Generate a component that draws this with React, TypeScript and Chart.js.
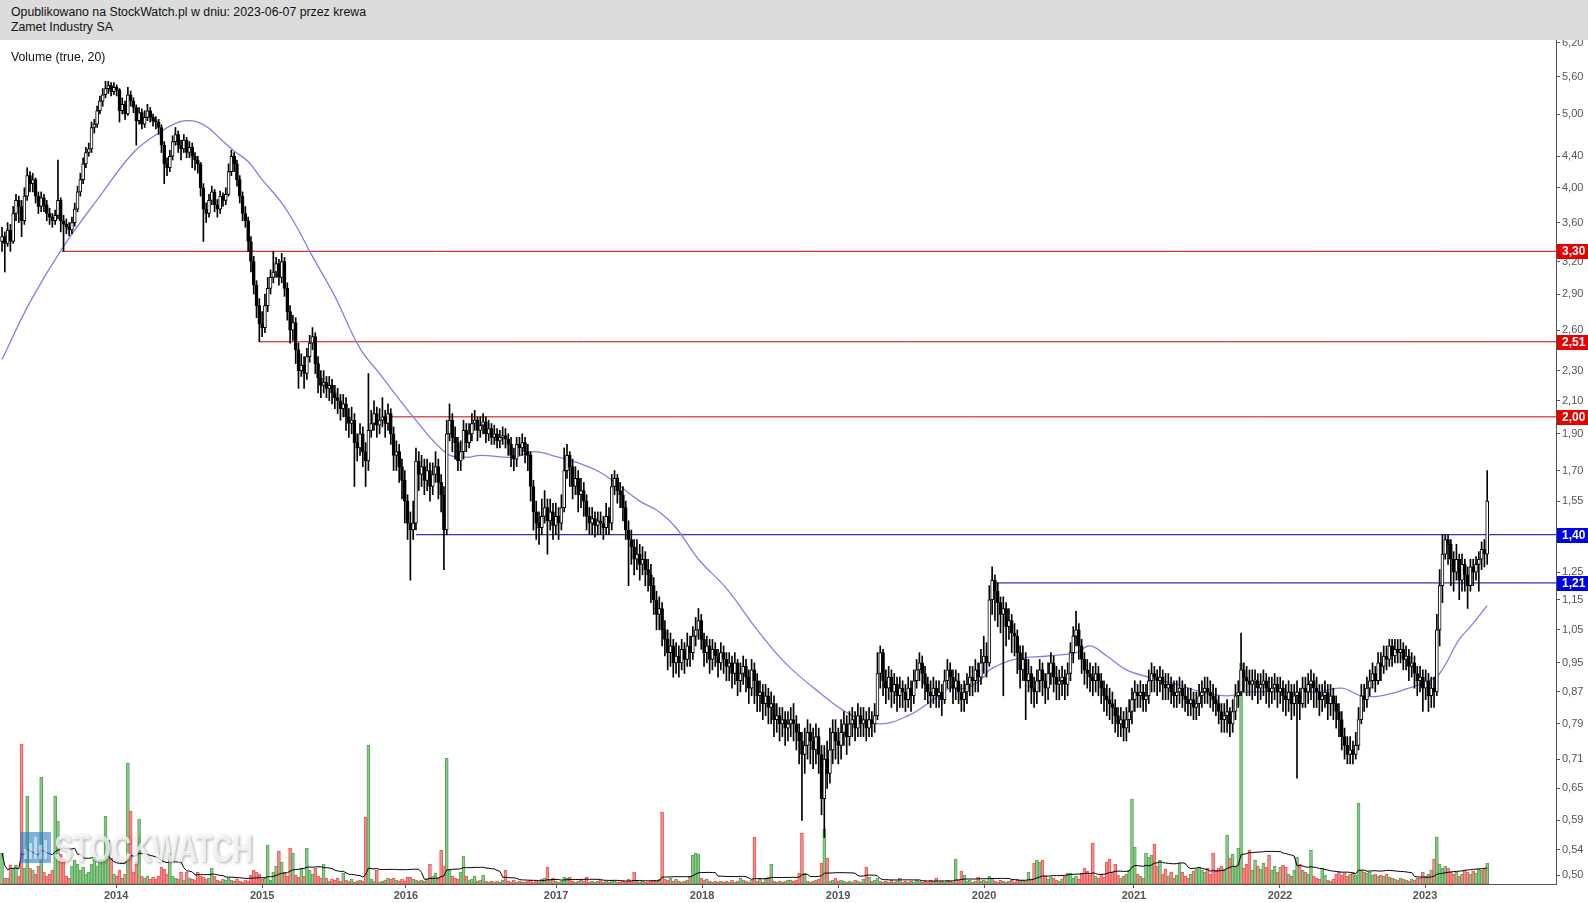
import React, { useEffect, useRef } from 'react';
import { Chart, registerables } from 'chart.js';

Chart.register(...registerables);

// ---------------- DATA (weekly candles) ----------------
const firstOpen = 3.40;

const closes = [
  3.45, 3.38, 3.52, 3.40, 3.70, 3.85, 3.78, 3.62, 3.90, 4.15,
  4.05, 4.10, 3.90, 3.78, 3.88, 3.80, 3.70, 3.66, 3.62, 3.68,
  3.85, 3.62, 3.58, 3.55, 3.52, 3.60, 3.75, 3.95, 4.10, 4.30,
  4.45, 4.50, 4.80, 4.85, 5.05, 5.20, 5.30, 5.40, 5.45, 5.35,
  5.42, 5.38, 5.05, 5.15, 5.00, 5.30, 5.20, 5.10, 4.90, 5.02,
  4.85, 4.95, 5.05, 4.95, 4.90, 4.88, 4.80, 4.55, 4.30, 4.25,
  4.40, 4.60, 4.70, 4.55, 4.50, 4.62, 4.45, 4.52, 4.40, 4.35,
  4.30, 4.00, 3.75, 3.70, 3.85, 3.95, 3.80, 3.75, 3.90, 3.85,
  3.92, 4.20, 4.40, 4.30, 4.10, 3.90, 3.70, 3.62, 3.40, 3.20,
  2.98, 2.80, 2.65, 2.62, 2.80, 2.95, 3.05, 3.10, 3.18, 3.05,
  3.20, 2.95, 2.75, 2.60, 2.66, 2.45, 2.30, 2.34, 2.28, 2.40,
  2.50, 2.55, 2.35, 2.25, 2.20, 2.22, 2.18, 2.20, 2.15, 2.12,
  2.10, 2.05, 2.08, 2.00, 1.96, 1.98, 1.85, 1.82, 1.90, 1.80,
  1.75, 1.92, 1.96, 2.02, 1.95, 1.98, 2.00, 1.96, 2.02, 1.90,
  1.78, 1.80, 1.72, 1.65, 1.55, 1.45, 1.42, 1.45, 1.75, 1.68,
  1.72, 1.65, 1.70, 1.62, 1.68, 1.72, 1.64, 1.58, 1.42, 1.90,
  1.98, 1.88, 1.85, 1.75, 1.80, 1.92, 1.85, 1.90, 1.96, 1.98,
  1.92, 1.95, 1.97, 1.90, 1.93, 1.88, 1.90, 1.86, 1.88, 1.89,
  1.87, 1.84, 1.78, 1.76, 1.84, 1.82, 1.85, 1.80, 1.78, 1.62,
  1.50, 1.45, 1.43, 1.48, 1.52, 1.46, 1.50, 1.44, 1.48, 1.45,
  1.52, 1.70, 1.78, 1.72, 1.62, 1.66, 1.58, 1.60, 1.55, 1.48,
  1.45, 1.47, 1.44, 1.46, 1.45, 1.43, 1.48, 1.45, 1.62, 1.66,
  1.60, 1.58, 1.52, 1.42, 1.38, 1.35, 1.30, 1.32, 1.28, 1.30,
  1.26, 1.24, 1.20, 1.15, 1.10, 1.12, 1.05, 1.02, 0.98, 1.00,
  0.95, 0.97, 0.95, 0.99, 0.96, 1.00, 0.98, 1.03, 1.05, 1.08,
  1.02, 0.98, 1.00, 0.96, 0.99, 0.97, 0.95, 0.98, 0.96, 0.94,
  0.95, 0.92, 0.95, 0.90, 0.92, 0.94, 0.91, 0.88, 0.93, 0.90,
  0.86, 0.87, 0.84, 0.86, 0.83, 0.84, 0.80, 0.81, 0.79, 0.80,
  0.78, 0.79, 0.80, 0.79, 0.77, 0.75, 0.72, 0.74, 0.77, 0.75,
  0.73, 0.76, 0.72, 0.63, 0.71, 0.68, 0.73, 0.77, 0.75, 0.74,
  0.77, 0.79, 0.76, 0.79, 0.80, 0.78, 0.81, 0.79, 0.80, 0.78,
  0.80, 0.79, 0.81, 0.92, 0.98, 0.90, 0.88, 0.91, 0.87, 0.89,
  0.86, 0.88, 0.87, 0.85, 0.88, 0.86, 0.90, 0.93, 0.95, 0.92,
  0.89, 0.87, 0.86, 0.88, 0.86, 0.87, 0.85, 0.90, 0.93, 0.91,
  0.88, 0.90, 0.87, 0.85, 0.87, 0.89, 0.91, 0.90, 0.93, 0.91,
  0.95, 0.97, 0.95, 1.15, 1.22, 1.18, 1.14, 1.10, 1.12, 1.06,
  1.08, 1.04, 1.03, 0.98, 0.93, 0.96, 0.90, 0.92, 0.88, 0.87,
  0.90, 0.93, 0.90, 0.88, 0.92, 0.95, 0.91, 0.89, 0.90, 0.91,
  0.89, 0.92, 0.98, 1.03, 1.05, 1.00, 0.96, 0.93, 0.92, 0.91,
  0.90, 0.92, 0.90, 0.88, 0.86, 0.85, 0.84, 0.83, 0.81, 0.79,
  0.80, 0.78, 0.80, 0.82, 0.85, 0.87, 0.86, 0.87, 0.85, 0.86,
  0.90, 0.92, 0.91, 0.90, 0.91, 0.89, 0.88, 0.89, 0.87, 0.86,
  0.87, 0.88, 0.86, 0.85, 0.84, 0.85, 0.83, 0.84, 0.86, 0.87,
  0.88, 0.87, 0.86, 0.85, 0.84, 0.82, 0.80, 0.81, 0.82, 0.79,
  0.82, 0.86, 0.87, 0.93, 0.91, 0.90, 0.89, 0.90, 0.90, 0.88,
  0.89, 0.90, 0.88, 0.87, 0.88, 0.89, 0.87, 0.88, 0.86, 0.85,
  0.87, 0.84, 0.86, 0.87, 0.84, 0.88, 0.87, 0.89, 0.90, 0.88,
  0.87, 0.85, 0.86, 0.87, 0.84, 0.86, 0.84, 0.82, 0.80, 0.76,
  0.74, 0.72, 0.73, 0.72, 0.74, 0.80, 0.86, 0.85, 0.88, 0.90,
  0.92, 0.90, 0.95, 0.94, 0.97, 0.96, 1.00, 0.97, 0.99, 0.98,
  0.99, 0.96, 0.97, 0.94, 0.95, 0.92, 0.90, 0.91, 0.88, 0.90,
  0.86, 0.88, 0.87, 1.05, 1.20, 1.32, 1.38, 1.36, 1.30, 1.25,
  1.30, 1.22, 1.28, 1.24, 1.20, 1.27, 1.25, 1.28, 1.30, 1.34,
  1.32, 1.55,
];

const highs = [
  3.55, 3.50, 3.60, 3.58, 3.78, 3.92, 3.90, 3.85, 4.00, 4.25,
  4.20, 4.18, 4.12, 3.95, 3.95, 3.92, 3.85, 3.76, 3.70, 3.74,
  4.35, 3.88, 3.68, 3.64, 3.60, 3.66, 3.82, 4.02, 4.18, 4.38,
  4.52, 4.58, 4.88, 4.92, 5.12, 5.28, 5.40, 5.52, 5.52, 5.50,
  5.50, 5.46, 5.40, 5.25, 5.20, 5.42, 5.36, 5.25, 5.14, 5.10,
  5.08, 5.05, 5.15, 5.10, 5.00, 4.96, 4.92, 4.84, 4.60, 4.38,
  4.48, 4.68, 4.80, 4.75, 4.62, 4.70, 4.66, 4.60, 4.58, 4.45,
  4.40, 4.32, 4.05, 3.82, 3.92, 4.02, 3.98, 3.86, 3.96, 3.94,
  4.00, 4.30, 4.48, 4.45, 4.35, 4.15, 3.95, 3.78, 3.66, 3.45,
  3.25, 3.02, 2.86, 2.75, 2.90, 3.05, 3.12, 3.30, 3.24, 3.22,
  3.28, 3.24, 3.00, 2.80, 2.72, 2.70, 2.50, 2.42, 2.40, 2.46,
  2.56, 2.62, 2.58, 2.40, 2.30, 2.30, 2.26, 2.26, 2.24, 2.20,
  2.18, 2.14, 2.14, 2.12, 2.05, 2.06, 2.02, 1.90, 1.96, 1.94,
  1.85, 2.28, 2.04, 2.10, 2.06, 2.05, 2.12, 2.04, 2.08, 2.05,
  1.94, 1.86, 1.84, 1.76, 1.70, 1.58, 1.50, 1.55, 1.82, 1.80,
  1.78, 1.76, 1.76, 1.74, 1.74, 1.80, 1.76, 1.68, 1.62, 1.98,
  2.08, 2.02, 1.94, 1.88, 1.86, 1.98, 1.96, 1.96, 2.02, 2.04,
  2.00, 2.00, 2.02, 2.00, 1.98, 1.96, 1.95, 1.93, 1.92, 1.94,
  1.93, 1.90, 1.88, 1.82, 1.88, 1.88, 1.90, 1.88, 1.84, 1.80,
  1.65, 1.55, 1.50, 1.56, 1.60, 1.56, 1.56, 1.54, 1.54, 1.52,
  1.58, 1.82, 1.84, 1.80, 1.76, 1.72, 1.70, 1.66, 1.64, 1.58,
  1.52, 1.52, 1.50, 1.50, 1.50, 1.48, 1.54, 1.52, 1.68, 1.70,
  1.68, 1.64, 1.62, 1.55, 1.46, 1.42, 1.38, 1.38, 1.36, 1.35,
  1.33, 1.30, 1.28, 1.23, 1.18, 1.16, 1.14, 1.08, 1.05, 1.04,
  1.02, 1.01, 1.00, 1.02, 1.01, 1.04, 1.03, 1.06, 1.09, 1.12,
  1.10, 1.04, 1.03, 1.02, 1.02, 1.01, 0.99, 1.01, 1.00, 0.98,
  0.98, 0.97, 0.98, 0.96, 0.95, 0.97, 0.96, 0.93, 0.96, 0.95,
  0.92, 0.90, 0.89, 0.89, 0.88, 0.87, 0.86, 0.84, 0.83, 0.83,
  0.82, 0.82, 0.83, 0.84, 0.81, 0.79, 0.77, 0.78, 0.80, 0.79,
  0.78, 0.79, 0.78, 0.74, 0.74, 0.75, 0.78, 0.80, 0.80, 0.78,
  0.80, 0.82, 0.81, 0.82, 0.83, 0.82, 0.84, 0.83, 0.83, 0.82,
  0.83, 0.82, 0.84, 0.98, 1.00, 0.99, 0.93, 0.94, 0.93, 0.92,
  0.91, 0.91, 0.90, 0.89, 0.91, 0.90, 0.93, 0.96, 0.98, 0.97,
  0.94, 0.91, 0.90, 0.91, 0.90, 0.90, 0.89, 0.93, 0.96, 0.95,
  0.93, 0.93, 0.92, 0.89, 0.90, 0.92, 0.94, 0.94, 0.96, 0.95,
  0.99, 1.03, 1.01, 1.20, 1.27, 1.24, 1.21, 1.16, 1.16, 1.14,
  1.12, 1.10, 1.07, 1.05, 1.00, 1.00, 0.98, 0.96, 0.94, 0.91,
  0.93, 0.96, 0.95, 0.92, 0.95, 0.98, 0.97, 0.94, 0.93, 0.94,
  0.93, 0.95, 1.01, 1.06, 1.11, 1.07, 1.02, 0.98, 0.96, 0.95,
  0.94, 0.95, 0.94, 0.92, 0.90, 0.89, 0.88, 0.87, 0.85, 0.83,
  0.83, 0.82, 0.83, 0.85, 0.88, 0.90, 0.89, 0.90, 0.89, 0.89,
  0.93, 0.95, 0.94, 0.93, 0.94, 0.93, 0.92, 0.92, 0.91, 0.90,
  0.90, 0.91, 0.90, 0.89, 0.88, 0.88, 0.87, 0.87, 0.89, 0.90,
  0.91, 0.91, 0.90, 0.89, 0.88, 0.86, 0.84, 0.84, 0.85, 0.83,
  0.85, 0.89, 0.90, 1.04, 0.95, 0.94, 0.93, 0.93, 0.93, 0.92,
  0.92, 0.93, 0.92, 0.91, 0.91, 0.92, 0.91, 0.91, 0.90, 0.89,
  0.90, 0.89, 0.89, 0.90, 0.88, 0.91, 0.91, 0.92, 0.93, 0.92,
  0.91, 0.89, 0.89, 0.90, 0.89, 0.89, 0.88, 0.86, 0.84, 0.82,
  0.78, 0.76, 0.76, 0.75, 0.77, 0.83, 0.89, 0.89, 0.91, 0.93,
  0.95, 0.94, 0.98, 0.98, 1.00, 1.00, 1.02, 1.02, 1.02, 1.02,
  1.02, 1.01, 1.00, 0.99, 0.98, 0.97, 0.94, 0.94, 0.93, 0.93,
  0.92, 0.91, 0.91, 1.10, 1.26, 1.40, 1.40, 1.40, 1.38, 1.33,
  1.36, 1.32, 1.32, 1.30, 1.27, 1.30, 1.30, 1.31, 1.33, 1.37,
  1.38, 1.70,
];

const lows = [
  3.30, 3.10, 3.35, 3.30, 3.38, 3.62, 3.60, 3.45, 3.58, 3.85,
  3.95, 3.95, 3.82, 3.70, 3.72, 3.72, 3.62, 3.58, 3.55, 3.58,
  3.64, 3.50, 3.30, 3.48, 3.46, 3.48, 3.56, 3.72, 3.90, 4.05,
  4.25, 4.40, 4.45, 4.72, 4.80, 5.00, 5.12, 5.25, 5.32, 5.28,
  5.30, 5.28, 4.88, 5.00, 4.92, 4.98, 5.12, 5.02, 4.55, 4.85,
  4.78, 4.80, 4.90, 4.88, 4.82, 4.78, 4.70, 4.45, 4.05, 4.15,
  4.20, 4.35, 4.55, 4.45, 4.35, 4.45, 4.38, 4.38, 4.25, 4.22,
  4.18, 3.90, 3.40, 3.60, 3.66, 3.80, 3.72, 3.66, 3.70, 3.78,
  3.80, 3.90, 4.15, 4.20, 4.02, 3.82, 3.62, 3.55, 3.30, 3.10,
  2.90, 2.70, 2.51, 2.55, 2.58, 2.75, 2.90, 3.00, 3.05, 2.98,
  3.00, 2.88, 2.68, 2.50, 2.52, 2.35, 2.18, 2.26, 2.18, 2.24,
  2.36, 2.45, 2.28, 2.15, 2.12, 2.15, 2.12, 2.10, 2.08, 2.05,
  2.02, 1.98, 2.00, 1.92, 1.88, 1.90, 1.62, 1.75, 1.78, 1.72,
  1.62, 1.70, 1.88, 1.92, 1.88, 1.90, 1.94, 1.88, 1.92, 1.84,
  1.70, 1.70, 1.64, 1.56, 1.45, 1.38, 1.22, 1.38, 1.42, 1.60,
  1.62, 1.58, 1.60, 1.55, 1.58, 1.64, 1.56, 1.50, 1.26, 1.40,
  1.86, 1.80, 1.76, 1.70, 1.70, 1.76, 1.80, 1.82, 1.86, 1.92,
  1.86, 1.88, 1.90, 1.85, 1.86, 1.84, 1.84, 1.82, 1.82, 1.84,
  1.82, 1.78, 1.72, 1.70, 1.72, 1.78, 1.78, 1.74, 1.70, 1.55,
  1.42, 1.38, 1.36, 1.40, 1.45, 1.32, 1.42, 1.38, 1.40, 1.38,
  1.42, 1.50, 1.66, 1.62, 1.56, 1.58, 1.50, 1.52, 1.48, 1.42,
  1.40, 1.40, 1.39, 1.40, 1.40, 1.38, 1.40, 1.40, 1.42, 1.58,
  1.54, 1.52, 1.46, 1.38, 1.20, 1.28, 1.24, 1.26, 1.22, 1.24,
  1.20, 1.18, 1.14, 1.10, 1.05, 1.05, 1.00, 0.97, 0.93, 0.94,
  0.91, 0.92, 0.91, 0.93, 0.92, 0.94, 0.94, 0.96, 1.00, 1.02,
  0.99, 0.94, 0.95, 0.92, 0.93, 0.94, 0.91, 0.93, 0.92, 0.90,
  0.90, 0.88, 0.89, 0.86, 0.87, 0.89, 0.87, 0.84, 0.86, 0.84,
  0.82, 0.82, 0.80, 0.81, 0.79, 0.79, 0.76, 0.77, 0.75, 0.76,
  0.74, 0.75, 0.76, 0.75, 0.73, 0.70, 0.59, 0.68, 0.71, 0.70,
  0.69, 0.70, 0.68, 0.60, 0.56, 0.65, 0.66, 0.70, 0.71, 0.70,
  0.71, 0.74, 0.72, 0.74, 0.76, 0.75, 0.76, 0.76, 0.76, 0.75,
  0.76, 0.76, 0.77, 0.80, 0.88, 0.86, 0.84, 0.85, 0.83, 0.84,
  0.82, 0.83, 0.83, 0.82, 0.83, 0.82, 0.84, 0.88, 0.90, 0.88,
  0.85, 0.84, 0.83, 0.84, 0.83, 0.83, 0.81, 0.84, 0.88, 0.87,
  0.84, 0.85, 0.84, 0.82, 0.82, 0.84, 0.86, 0.86, 0.87, 0.87,
  0.89, 0.92, 0.91, 0.94, 1.10, 1.08, 1.06, 1.04, 0.86, 1.00,
  1.02, 0.98, 0.97, 0.92, 0.88, 0.90, 0.80, 0.87, 0.84, 0.83,
  0.84, 0.87, 0.86, 0.84, 0.85, 0.89, 0.87, 0.85, 0.85, 0.86,
  0.85, 0.86, 0.90, 0.95, 1.00, 0.96, 0.92, 0.89, 0.88, 0.87,
  0.86, 0.87, 0.86, 0.84, 0.82, 0.81, 0.80, 0.79, 0.77, 0.76,
  0.76, 0.75, 0.75, 0.77, 0.79, 0.82, 0.83, 0.83, 0.82, 0.82,
  0.84, 0.87, 0.87, 0.86, 0.87, 0.85, 0.85, 0.85, 0.84, 0.83,
  0.83, 0.84, 0.83, 0.82, 0.81, 0.81, 0.80, 0.80, 0.81, 0.83,
  0.84, 0.84, 0.83, 0.82, 0.81, 0.79, 0.77, 0.77, 0.77, 0.76,
  0.77, 0.80, 0.83, 0.86, 0.87, 0.86, 0.86, 0.85, 0.86, 0.84,
  0.85, 0.86, 0.84, 0.83, 0.84, 0.85, 0.83, 0.84, 0.82, 0.81,
  0.82, 0.80, 0.81, 0.67, 0.80, 0.83, 0.83, 0.84, 0.85, 0.83,
  0.83, 0.81, 0.82, 0.83, 0.80, 0.81, 0.80, 0.78, 0.76, 0.73,
  0.71, 0.70, 0.70, 0.70, 0.71, 0.73, 0.79, 0.82, 0.83, 0.86,
  0.88, 0.87, 0.89, 0.90, 0.92, 0.93, 0.94, 0.94, 0.95, 0.95,
  0.95, 0.93, 0.93, 0.90, 0.91, 0.88, 0.86, 0.87, 0.82, 0.85,
  0.82, 0.83, 0.83, 0.86, 1.00, 1.14, 1.30, 1.28, 1.20, 1.18,
  1.22, 1.15, 1.18, 1.18, 1.12, 1.18, 1.20, 1.22, 1.18, 1.26,
  1.27, 1.28,
];

const volumes = [
  31, 6, 6, 19, 16, 19, 8, 140, 16, 88,
  16, 14, 10, 18, 107, 12, 8, 10, 14, 88,
  63, 30, 25, 8, 6, 18, 24, 20, 14, 17,
  10, 12, 20, 27, 18, 25, 24, 68, 44, 26,
  10, 8, 14, 6, 10, 121, 73, 12, 20, 65,
  8, 6, 8, 5, 7, 5, 8, 17, 15, 10,
  31, 8, 6, 5, 12, 4, 12, 6, 5, 4,
  12, 8, 7, 5, 6, 16, 8, 4, 3, 5,
  4, 6, 4, 3, 5, 3, 2, 4, 3, 9,
  14, 12, 10, 5, 6, 39, 4, 12, 18, 33,
  22, 12, 8, 36, 31, 9, 7, 16, 8, 36,
  14, 10, 16, 8, 6, 20, 6, 3, 5, 4,
  6, 3, 11, 4, 3, 5, 2, 3, 4, 3,
  67, 139, 5, 3, 14, 2, 3, 4, 6, 5,
  6, 4, 3, 5, 3, 7, 7, 5, 4, 3,
  4, 3, 5, 20, 8, 11, 6, 34, 18, 126,
  14, 8, 6, 5, 12, 28, 8, 4, 5, 8,
  3, 4, 9, 3, 2, 3, 2, 3, 2, 4,
  14, 3, 2, 4, 2, 3, 2, 2, 3, 4,
  2, 3, 2, 5, 6, 17, 4, 6, 3, 2,
  3, 7, 6, 7, 3, 2, 3, 4, 3, 7,
  2, 3, 2, 3, 4, 2, 3, 2, 4, 3,
  2, 2, 3, 2, 5, 3, 12, 3, 2, 3,
  2, 2, 3, 4, 3, 5, 72, 5, 4, 6,
  3, 5, 3, 2, 3, 4, 8, 29, 31, 30,
  6, 4, 5, 3, 2, 3, 2, 3, 2, 3,
  2, 4, 2, 3, 6, 4, 3, 2, 4, 47,
  3, 5, 2, 6, 7, 20, 3, 2, 3, 2,
  3, 4, 4, 3, 4, 11, 51, 11, 3, 2,
  3, 4, 5, 21, 55, 26, 3, 4, 6, 3,
  4, 3, 2, 3, 2, 4, 3, 2, 5, 17,
  7, 3, 4, 6, 3, 2, 3, 2, 4, 2,
  3, 6, 2, 3, 2, 3, 2, 4, 3, 2,
  3, 2, 4, 3, 6, 2, 3, 2, 4, 3,
  2, 25, 4, 13, 9, 3, 4, 2, 3, 7,
  3, 4, 3, 8, 6, 3, 2, 4, 3, 2,
  3, 4, 2, 5, 3, 4, 3, 12, 5, 21,
  24, 22, 24, 8, 5, 7, 6, 4, 3, 5,
  8, 11, 11, 6, 8, 5, 11, 16, 13, 9,
  41, 8, 6, 10, 7, 22, 25, 12, 20, 9,
  6, 8, 10, 14, 85, 37, 10, 8, 6, 31,
  27, 29, 40, 18, 24, 10, 15, 8, 12, 6,
  9, 21, 12, 8, 6, 10, 13, 15, 17, 14,
  12, 16, 10, 31, 14, 16, 18, 15, 49, 26,
  30, 18, 36, 221, 16, 20, 34, 14, 24, 18,
  15, 21, 17, 29, 14, 18, 12, 17, 19, 17,
  10, 8, 14, 27, 20, 14, 12, 10, 34, 8,
  6, 5, 16, 9, 4, 3, 5, 10, 12, 9,
  11, 8, 10, 12, 9, 81, 14, 12, 11, 12,
  9, 10, 8, 9, 8, 10, 7, 6, 5, 4,
  6, 5, 4, 3, 5, 4, 6, 6, 12, 8,
  10, 14, 25, 47, 20, 16, 18, 16, 12, 10,
  12, 8, 10, 14, 12, 10, 13, 11, 15, 14,
  15, 21,
];

// long moving average of price at [week index, value]
const maIdx = [0, 10, 22, 35, 47, 56, 62, 66, 70, 74, 78, 83, 88, 93, 100, 106, 110, 119, 128, 135, 147,
  159, 166, 171, 183, 190, 199, 206, 214, 222, 228, 235, 241, 249, 259, 270, 280, 292, 304, 314, 324,
  333, 339, 345, 351, 353, 362, 374, 384, 389, 395, 402, 410, 420, 429, 438, 446, 458, 470, 479, 486,
  493, 503, 510, 514, 521, 525, 531];
const maVal = [2.38, 2.83, 3.35, 3.90, 4.45, 4.72, 4.86, 4.90, 4.88, 4.79, 4.64, 4.47, 4.33, 4.10, 3.82, 3.52, 3.30, 2.88, 2.46, 2.28, 2.00,
  1.79, 1.77, 1.78, 1.77, 1.80, 1.77, 1.74, 1.69, 1.61, 1.55, 1.50, 1.43, 1.30, 1.19, 1.05, 0.95, 0.87, 0.81, 0.79, 0.81,
  0.85, 0.88, 0.88, 0.91, 0.93, 0.96, 0.97, 0.98, 1.00, 0.97, 0.93, 0.91, 0.89, 0.87, 0.86, 0.87, 0.87, 0.87, 0.88, 0.86,
  0.86, 0.88, 0.90, 0.92, 1.02, 1.06, 1.13];

const volumeMaPeriod = 20;

// horizontal support / resistance levels
const levelValues = [3.30, 2.51, 2.00, 1.40, 1.21];
const levelStarts = [21.5, 92, 136, 148, 354];
const levelKinds = ['resistance', 'resistance', 'resistance', 'support', 'support'];

// axes
const yearTicks = [40.8, 93.0, 144.4, 198.1, 250.3, 298.9, 351.1, 404.7, 456.9, 508.8];
const yearLabels = ['2014', '2015', '2016', '2017', '2018', '2019', '2020', '2021', '2022', '2023'];
const priceTicks = [0.50, 0.54, 0.59, 0.65, 0.71, 0.79, 0.87, 0.95, 1.05, 1.15, 1.25, 1.40, 1.55, 1.70,
  1.90, 2.10, 2.30, 2.60, 2.90, 3.20, 3.60, 4.00, 4.40, 5.00, 5.60, 6.20];

// ---------------- STYLE ----------------
const FONT = '"Liberation Sans", Arial, Helvetica, sans-serif';
const X_MIN = -0.72;
const X_MAX = 555.6;
const Y_MIN = 0.4866;
const Y_MAX = 6.255;
const KIND_COLORS: Record<string, { line: string; box: string }> = {
  resistance: { line: 'rgb(204,0,0)', box: 'rgb(232,0,0)' },
  support: { line: 'rgb(0,0,150)', box: 'rgb(0,0,230)' },
};

const fmt = (v: number) => v.toFixed(2).replace('.', ',');

const levelLabelPlugin = {
  id: 'levelLabels',
  afterDraw(chart: any) {
    const ctx = chart.ctx;
    const ys = chart.scales.y;
    const right = chart.chartArea.right;
    ctx.save();
    levelValues.forEach((v, k) => {
      const py = Math.round(ys.getPixelForValue(v));
      ctx.fillStyle = KIND_COLORS[levelKinds[k]].box;
      ctx.fillRect(right + 1, py - 7, chart.width - right - 1, 15);
      ctx.fillStyle = '#ffffff';
      ctx.font = `bold 12px ${FONT}`;
      ctx.textBaseline = 'middle';
      ctx.textAlign = 'left';
      ctx.fillText(fmt(v), right + 6, py + 1);
    });
    ctx.restore();
  },
};

const watermarkPlugin = {
  id: 'watermark',
  afterDatasetsDraw(chart: any) {
    const ctx = chart.ctx;
    ctx.save();
    ctx.globalAlpha = 0.6;
    ctx.fillStyle = 'rgb(40,125,200)';
    ctx.fillRect(20, 792, 31, 31);
    ctx.fillStyle = 'rgba(255,255,255,0.85)';
    const bars = [10, 16, 22, 14, 19];
    bars.forEach((h, k) => {
      ctx.fillRect(24 + k * 5, 819 - h, 3, h);
    });
    ctx.globalAlpha = 0.8;
    ctx.font = `bold 38px ${FONT}`;
    const w = ctx.measureText('STOCKWATCH').width;
    ctx.translate(54, 822);
    ctx.scale(199 / w, 1);
    ctx.shadowColor = 'rgba(0,0,0,0.45)';
    ctx.shadowBlur = 3;
    ctx.shadowOffsetX = 1;
    ctx.shadowOffsetY = 1;
    ctx.fillStyle = 'rgba(255,255,255,0.95)';
    ctx.textBaseline = 'alphabetic';
    ctx.fillText('STOCKWATCH', 0, 0);
    ctx.restore();
  },
};

export default function App() {
  const ref = useRef<HTMLCanvasElement | null>(null);

  useEffect(() => {
    if (!ref.current) return;
    const opens = closes.map((c, i) => (i === 0 ? firstOpen : closes[i - 1]));
    const up = closes.map((c, i) => c >= opens[i]);
    const bodies = closes.map((c, i) => ({ x: i, y: [Math.min(opens[i], c), Math.max(opens[i], c)] }));
    const wicks = closes.map((c, i) => ({
      x: i,
      y: [Math.min(lows[i], opens[i], c), Math.max(highs[i], opens[i], c)],
    }));
    const vol = volumes.map((v, i) => ({ x: i, y: v }));
    const volMa = volumes.map((v, i) => {
      const s = Math.max(0, i - volumeMaPeriod + 1);
      const part = volumes.slice(s, i + 1);
      return { x: i, y: part.reduce((a, b) => a + b, 0) / part.length };
    });
    const ma = maIdx.map((x, k) => ({ x, y: maVal[k] }));

    const levelSets = levelValues.map((v, k) => ({
      type: 'line',
      data: [{ x: levelStarts[k], y: v }, { x: X_MAX, y: v }],
      yAxisID: 'y',
      borderColor: KIND_COLORS[levelKinds[k]].line,
      borderWidth: 1,
      pointRadius: 0,
      order: 8,
    }));

    const chart = new Chart(ref.current, {
      type: 'bar',
      data: {
        datasets: [
          {
            type: 'bar',
            data: vol,
            yAxisID: 'yv',
            backgroundColor: up.map((u) => (u ? 'rgb(140,200,140)' : 'rgb(246,140,140)')),
            borderColor: up.map((u) => (u ? 'rgb(85,165,85)' : 'rgb(232,88,88)')),
            borderWidth: 1,
            borderSkipped: false,
            barThickness: 3,
            grouped: false,
            order: 10,
          },
          {
            type: 'line',
            data: volMa,
            yAxisID: 'yv',
            borderColor: '#000000',
            borderWidth: 1,
            pointRadius: 0,
            order: 9,
          },
          ...levelSets,
          {
            type: 'line',
            data: ma,
            yAxisID: 'y',
            borderColor: 'rgb(135,125,228)',
            borderWidth: 1.3,
            pointRadius: 0,
            tension: 0.4,
            order: 7,
          },
          {
            type: 'bar',
            data: wicks,
            yAxisID: 'y',
            backgroundColor: '#000000',
            borderWidth: 0,
            barThickness: 1,
            grouped: false,
            order: 6,
          },
          {
            type: 'bar',
            data: bodies,
            yAxisID: 'y',
            backgroundColor: up.map((u) => (u ? '#ffffff' : '#000000')),
            borderColor: '#000000',
            borderWidth: 1,
            borderSkipped: false,
            barThickness: 3,
            minBarLength: 1,
            grouped: false,
            order: 5,
          },
        ] as any,
      },
      options: {
        responsive: false,
        animation: false,
        events: [],
        layout: { padding: 0 },
        plugins: { legend: { display: false }, tooltip: { enabled: false } },
        scales: {
          x: {
            type: 'linear',
            min: X_MIN,
            max: X_MAX,
            offset: false,
            afterBuildTicks: (s: any) => {
              s.ticks = yearTicks.map((v) => ({ value: v }));
            },
            afterFit: (s: any) => {
              s.height = 19;
              s.paddingLeft = 0;
              s.paddingRight = 0;
            },
            ticks: {
              autoSkip: false,
              maxRotation: 0,
              padding: 1,
              color: '#555555',
              font: { family: FONT, size: 11, weight: 'bold' },
              callback: (_v: any, idx: number) => yearLabels[idx] ?? '',
            },
            grid: { drawOnChartArea: false, drawTicks: true, tickLength: 4, tickColor: '#555555', offset: false },
            border: { display: true, color: '#555555', width: 1 },
          },
          y: {
            type: 'logarithmic',
            position: 'right',
            min: Y_MIN,
            max: Y_MAX,
            afterBuildTicks: (s: any) => {
              s.ticks = priceTicks.map((v) => ({ value: v }));
            },
            afterFit: (s: any) => {
              s.width = 32;
              s.paddingTop = 0;
              s.paddingBottom = 0;
            },
            ticks: {
              autoSkip: false,
              padding: 2,
              color: '#555555',
              font: { family: FONT, size: 11 },
              callback: (v: any) => fmt(Number(v)),
            },
            grid: { drawOnChartArea: false, drawTicks: true, tickLength: 4, tickColor: '#555555' },
            border: { display: true, color: '#555555', width: 1 },
          },
          yv: {
            type: 'linear',
            display: false,
            min: 0,
            max: 844,
          },
        },
      } as any,
      plugins: [watermarkPlugin, levelLabelPlugin],
    });
    return () => chart.destroy();
  }, []);

  return (
    <div style={{ position: 'absolute', left: 0, top: 0, width: 1588, height: 903, background: '#ffffff', overflow: 'hidden' }}>
      <div
        style={{
          position: 'absolute',
          left: 0,
          top: 0,
          width: 1588,
          height: 40,
          background: '#dcdcdc',
          fontFamily: FONT,
          fontSize: 12.3,
          lineHeight: '15px',
          color: '#111111',
          padding: '5px 0 0 11px',
          boxSizing: 'border-box',
        }}
      >
        <div>Opublikowano na StockWatch.pl w dniu: 2023-06-07 przez krewa</div>
        <div>Zamet Industry SA</div>
      </div>
      <canvas
        ref={ref}
        width={1588}
        height={863}
        style={{ position: 'absolute', left: 0, top: 40, width: 1588, height: 863, display: 'block' }}
      />
      <div
        style={{
          position: 'absolute',
          left: 11,
          top: 50,
          fontFamily: FONT,
          fontSize: 12.3,
          lineHeight: '15px',
          color: '#111111',
        }}
      >
        Volume (true, 20)
      </div>
    </div>
  );
}
